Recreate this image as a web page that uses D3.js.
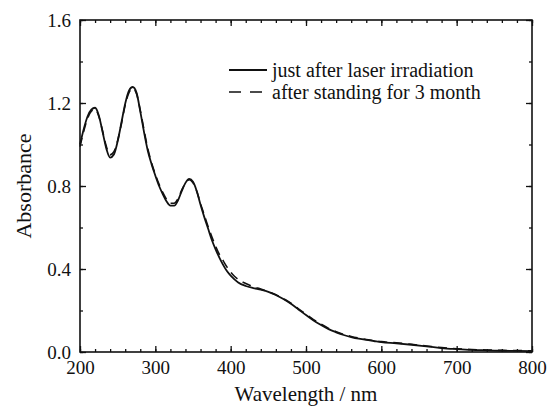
<!DOCTYPE html>
<html>
<head>
<meta charset="utf-8">
<script src="https://cdn.jsdelivr.net/npm/d3@7"></script>
<style>
  html, body { margin: 0; padding: 0; background: #fff; }
  svg { display: block; }
</style>
</head>
<body>
<div id="chart"></div>
<script>
// ---- Data ----
const wavelengths = [200,205,210,215,220,225,230,235,240,245,250,255,260,265,270,275,280,285,290,295,300,305,310,315,320,325,330,335,340,345,350,355,360,365,370,375,380,385,390,395,400,405,410,420,430,440,450,460,470,480,490,500,510,520,530,540,550,560,570,580,590,600,620,640,660,680,700,720,740,760,780,800];
const justAfter = [1.00,1.075,1.135,1.168,1.177,1.14,1.06,0.98,0.937,0.952,1.015,1.106,1.197,1.26,1.277,1.25,1.16,1.06,0.97,0.905,0.85,0.80,0.76,0.725,0.705,0.705,0.73,0.775,0.815,0.834,0.82,0.775,0.71,0.65,0.595,0.54,0.495,0.455,0.42,0.39,0.368,0.35,0.335,0.318,0.308,0.30,0.29,0.275,0.255,0.232,0.205,0.178,0.152,0.13,0.11,0.095,0.082,0.072,0.064,0.058,0.053,0.048,0.042,0.035,0.027,0.019,0.014,0.010,0.008,0.006,0.005,0.004];
const afterStanding = [0.99,1.065,1.125,1.16,1.17,1.135,1.065,0.99,0.95,0.965,1.02,1.10,1.19,1.25,1.27,1.245,1.165,1.07,0.98,0.912,0.856,0.808,0.768,0.735,0.717,0.717,0.738,0.78,0.815,0.83,0.815,0.775,0.715,0.66,0.605,0.555,0.51,0.47,0.44,0.41,0.385,0.365,0.35,0.33,0.315,0.303,0.29,0.276,0.257,0.235,0.208,0.182,0.156,0.134,0.114,0.098,0.085,0.075,0.067,0.060,0.055,0.050,0.044,0.037,0.029,0.021,0.016,0.012,0.010,0.008,0.007,0.006];
const seriesNames = ["just after laser irradiation", "after standing for 3 month"];
const xTicks = [200,300,400,500,600,700,800];
const yTicks = [0.0,0.4,0.8,1.2,1.6];
const xMinorTicks = d3.range(200, 801, 20);
const yMinorTicks = d3.range(0, 1.61, 0.2);

// ---- Layout ----
const W = 547, H = 410;
const margin = {left: 80, right: 15, top: 20, bottom: 58};
const iw = W - margin.left - margin.right;
const ih = H - margin.top - margin.bottom;
const FONT = "Liberation Serif";
const INK = "#111";

const svg = d3.select("#chart").append("svg").attr("width", W).attr("height", H);
const g = svg.append("g").attr("transform", `translate(${margin.left},${margin.top})`);

const x = d3.scaleLinear().domain([200, 800]).range([0, iw]);
const y = d3.scaleLinear().domain([0, 1.6]).range([ih, 0]);

function styleAxis(sel) {
  sel.attr("font-family", FONT).attr("font-size", 19);
  sel.select(".domain").remove();
  sel.selectAll("line").attr("stroke", INK).attr("stroke-width", 1.3);
  sel.selectAll("text").attr("fill", INK).style("font-family", FONT);
}
// minor ticks
g.append("g").attr("transform", `translate(0,${ih})`)
  .call(d3.axisBottom(x).tickValues(xMinorTicks).tickSize(-3).tickFormat(""))
  .call(styleAxis);
g.append("g")
  .call(d3.axisTop(x).tickValues(xMinorTicks).tickSize(-3).tickFormat(""))
  .call(styleAxis);
g.append("g")
  .call(d3.axisLeft(y).tickValues(yMinorTicks).tickSize(-3).tickFormat(""))
  .call(styleAxis);
g.append("g").attr("transform", `translate(${iw},0)`)
  .call(d3.axisRight(y).tickValues(yMinorTicks).tickSize(-3).tickFormat(""))
  .call(styleAxis);
// major ticks with labels
g.append("g").attr("transform", `translate(0,${ih})`)
  .call(d3.axisBottom(x).tickValues(xTicks).tickSize(-6).tickPadding(9).tickFormat(d3.format("d")))
  .call(styleAxis);
g.append("g")
  .call(d3.axisTop(x).tickValues(xTicks).tickSize(-6).tickFormat(""))
  .call(styleAxis);
g.append("g")
  .call(d3.axisLeft(y).tickValues(yTicks).tickSize(-6).tickPadding(9).tickFormat(d3.format(".1f")))
  .call(styleAxis);
g.append("g").attr("transform", `translate(${iw},0)`)
  .call(d3.axisRight(y).tickValues(yTicks).tickSize(-6).tickFormat(""))
  .call(styleAxis);

g.append("rect").attr("x", 0).attr("y", 0).attr("width", iw).attr("height", ih)
  .attr("fill", "none").attr("stroke", INK).attr("stroke-width", 1.6);

// ---- Lines ----
const line = (vals) => d3.line()
  .x((d, i) => x(wavelengths[i]))
  .y(d => y(d))
  .curve(d3.curveMonotoneX)(vals);

g.append("path").attr("d", line(afterStanding))
  .attr("fill", "none").attr("stroke", INK).attr("stroke-width", 1.6)
  .attr("stroke-dasharray", "9,6");
g.append("path").attr("d", line(justAfter))
  .attr("fill", "none").attr("stroke", INK).attr("stroke-width", 1.8);

// ---- Legend ----
const leg = svg.append("g");
const legX1 = 229, legX2 = 267, legY = [70, 92];
leg.append("line").attr("x1", legX1).attr("x2", legX2).attr("y1", legY[0]).attr("y2", legY[0])
  .attr("stroke", INK).attr("stroke-width", 1.8);
leg.append("line").attr("x1", legX1).attr("x2", legX2).attr("y1", legY[1]).attr("y2", legY[1])
  .attr("stroke", INK).attr("stroke-width", 1.6).attr("stroke-dasharray", "12,9");
seriesNames.forEach((name, i) => {
  leg.append("text").attr("x", 272).attr("y", legY[i] + 7)
    .attr("font-family", FONT).style("font-family", FONT)
    .attr("font-size", 20).attr("fill", INK).text(name);
});

// ---- Axis titles ----
svg.append("text").attr("x", margin.left + iw / 2).attr("y", 401)
  .attr("font-family", FONT).style("font-family", FONT).attr("fill", INK)
  .attr("text-anchor", "middle").attr("font-size", 21).text("Wavelength / nm");
svg.append("text").attr("transform", `translate(31,${margin.top + ih / 2}) rotate(-90)`)
  .attr("font-family", FONT).style("font-family", FONT).attr("fill", INK)
  .attr("text-anchor", "middle").attr("font-size", 22).text("Absorbance");
</script>
</body>
</html>
